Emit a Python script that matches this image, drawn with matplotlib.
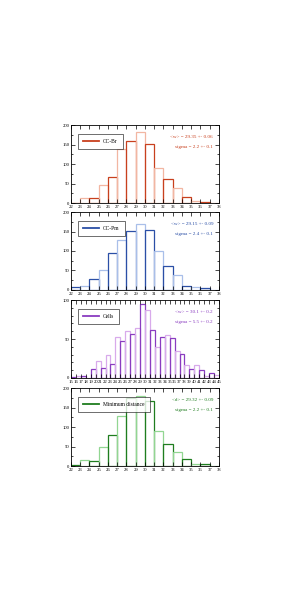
import matplotlib
matplotlib.use("Agg")
import matplotlib.pyplot as plt
from matplotlib.ticker import MultipleLocator

plt.rcParams['font.family'] = ['Liberation Serif', 'DejaVu Serif']

# histogram data (bin left edges, counts)
br_bins = list(range(22, 38))
br_counts = [0, 12, 12, 46, 67, 138, 160, 183, 152, 90, 61, 39, 15, 6, 4, 0]

pm_bins = list(range(22, 38))
pm_counts = [7, 10, 29, 51, 94, 128, 151, 169, 154, 99, 61, 38, 10, 7, 4, 1]

cell_bins = list(range(15, 45))
cell_counts = [1, 2, 3, 0, 12, 22, 13, 29, 18, 52, 47, 60, 56, 64, 95, 87,
               61, 40, 52, 55, 51, 35, 31, 17, 12, 17, 10, 3, 6, 4]

md_bins = list(range(22, 38))
md_counts = [3, 15, 12, 50, 80, 129, 174, 181, 168, 91, 57, 36, 17, 6, 4, 1]

labels = ['CC-Br', 'CC-Pm', 'Cells', 'Minimum distance']
stats = [('<w> = 29.35 +- 0.06', 'sigma = 2.2 +- 0.1'),
         ('<w> = 29.15 +- 0.09', 'sigma = 2.4 +- 0.1'),
         ('<w> = 30.1 +- 0.2', 'sigma = 5.5 +- 0.2'),
         ('<d> = 29.32 +- 0.09', 'sigma = 2.2 +- 0.1')]

dark = ['#c8401e', '#2b4fa6', '#8a3cc0', '#1f7d1f']
light = ['#f2b6a2', '#a9bfe9', '#d8aaeb', '#92d692']

data = [(br_bins, br_counts), (pm_bins, pm_counts),
        (cell_bins, cell_counts), (md_bins, md_counts)]
xlims = [(22, 38), (22, 38), (15, 45), (22, 38)]
ylims = [200, 200, 100, 200]

fig = plt.figure(figsize=(2.84, 5.99), dpi=100)

# axes positions in figure fractions
left, width = 0.25, 0.521
bottoms = [0.661, 0.516, 0.369, 0.222]
height = 0.130

for i in range(4):
    ax = fig.add_axes([left, bottoms[i], width, height])
    bins, counts = data[i]
    cols = [dark[i] if k % 2 == 0 else light[i] for k in range(len(bins))]
    ax.bar(bins, counts, width=1, align='edge', fill=False,
           edgecolor=cols, linewidth=0.9)
    ax.plot([], [], color=dark[i], lw=1.3, label=labels[i])
    ax.set_xlim(*xlims[i])
    ax.set_ylim(0, ylims[i])
    ax.xaxis.set_major_locator(MultipleLocator(1))
    if ylims[i] == 200:
        ax.yaxis.set_major_locator(MultipleLocator(50))
        ax.yaxis.set_minor_locator(MultipleLocator(25))
    else:
        ax.yaxis.set_major_locator(MultipleLocator(50))
        ax.yaxis.set_minor_locator(MultipleLocator(10))
    ax.tick_params(which='both', direction='in', top=True, right=True,
                   labelsize=3.4, pad=1.2, width=0.5)
    ax.tick_params(which='major', length=3)
    ax.tick_params(which='minor', length=1.5)
    for s in ax.spines.values():
        s.set_linewidth(0.6)
    leg = ax.legend(loc='upper left', fontsize=4.0, frameon=True,
                    fancybox=False, handlelength=2.8, borderpad=0.9,
                    bbox_to_anchor=(0.03, 0.92))
    leg.get_frame().set_edgecolor('black')
    leg.get_frame().set_linewidth(0.5)
    ax.text(0.96, 0.85, stats[i][0], transform=ax.transAxes, ha='right',
            va='center', fontsize=3.7, color=dark[i])
    ax.text(0.96, 0.72, stats[i][1], transform=ax.transAxes, ha='right',
            va='center', fontsize=3.7, color=dark[i])

fig.savefig('out.png', dpi=100)
